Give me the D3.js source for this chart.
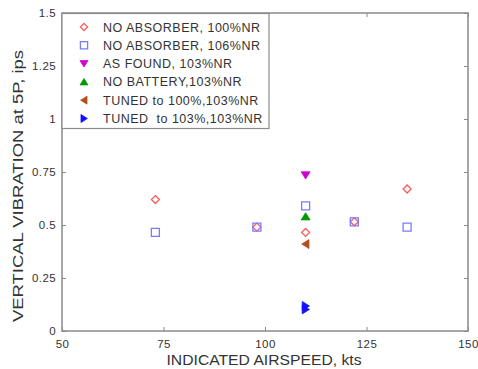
<!DOCTYPE html>
<html>
<head>
<meta charset="utf-8">
<script src="https://cdn.jsdelivr.net/npm/d3@7"></script>
<style>
  html, body { margin: 0; padding: 0; background: #fff; }
  svg { display: block; font-family: "Liberation Sans", Arial, Helvetica, sans-serif; }
</style>
</head>
<body>
<svg id="chart" width="478" height="369"></svg>
<script>
// Test conditions and measured vertical vibration (ips) vs indicated airspeed (kts)
const noAbs100Speed = [73, 98, 110, 122, 135];
const noAbs100Vib   = [0.62, 0.49, 0.465, 0.515, 0.67];
const noAbs106Speed = [73, 98, 110, 122, 135];
const noAbs106Vib   = [0.465, 0.49, 0.59, 0.515, 0.49];
const asFoundSpeed  = [110];
const asFoundVib    = [0.735];
const noBattSpeed   = [110];
const noBattVib     = [0.54];
const tuned100Speed = [110];
const tuned100Vib   = [0.41];
const tuned103Speed = [110, 110];
const tuned103Vib   = [0.102, 0.118];

const xTicks = [50, 75, 100, 125, 150];
const yTicks = [0, 0.25, 0.5, 0.75, 1, 1.25, 1.5];

const series = [
  { name: "NO ABSORBER, 100%NR", x: noAbs100Speed, y: noAbs100Vib, shape: "diamond", color: "#ff5a5a", fill: false },
  { name: "NO ABSORBER, 106%NR", x: noAbs106Speed, y: noAbs106Vib, shape: "square", color: "#7a7aff", fill: false },
  { name: "AS FOUND, 103%NR", x: asFoundSpeed, y: asFoundVib, shape: "triDown", color: "#d000d0", fill: true },
  { name: "NO BATTERY,103%NR", x: noBattSpeed, y: noBattVib, shape: "triUp", color: "#009a00", fill: true },
  { name: "TUNED to 100%,103%NR", x: tuned100Speed, y: tuned100Vib, shape: "triLeft", color: "#b0501e", fill: true },
  { name: "TUNED  to 103%,103%NR", x: tuned103Speed, y: tuned103Vib, shape: "triRight", color: "#1010ff", fill: true }
];

const svg = d3.select("#chart");
const margin = { left: 62, right: 10, top: 13, bottom: 38 };
const W = 478, H = 369;
const x = d3.scaleLinear().domain([50, 150]).range([margin.left, W - margin.right]);
const y = d3.scaleLinear().domain([0, 1.5]).range([H - margin.bottom, margin.top]);

const frameColor = "#8a8a8a";
const textColor = "#333";

// Marker path generator, r = half-size
function markerPath(shape, r) {
  switch (shape) {
    case "diamond": return `M0,${-r}L${r},0L0,${r}L${-r},0Z`;
    case "square": return `M${-r},${-r}H${r}V${r}H${-r}Z`;
    case "triDown": return `M${-r},${-r*0.75}L${r},${-r*0.75}L0,${r*0.85}Z`;
    case "triUp": return `M${-r},${r*0.75}L${r},${r*0.75}L0,${-r*0.85}Z`;
    case "triLeft": return `M${r*0.75},${-r}L${r*0.75},${r}L${-r*0.85},0Z`;
    case "triRight": return `M${-r*0.75},${-r}L${-r*0.75},${r}L${r*0.85},0Z`;
  }
}

// Axes (ticks inward, mirrored on the opposite sides)
const tickLen = 4;
const gx = svg.append("g").attr("transform", `translate(0,${y(0)})`)
  .call(d3.axisBottom(x).tickValues(xTicks).tickSize(-tickLen).tickPadding(9).tickFormat(d3.format("d")));
const gxTop = svg.append("g").attr("transform", `translate(0,${y(1.5)})`)
  .call(d3.axisTop(x).tickValues(xTicks).tickSize(-tickLen).tickFormat(""));
const gy = svg.append("g").attr("transform", `translate(${x(50)},0)`)
  .call(d3.axisLeft(y).tickValues(yTicks).tickSize(-tickLen).tickPadding(6).tickFormat(d => d3.format("")(d)));
const gyRight = svg.append("g").attr("transform", `translate(${x(150)},0)`)
  .call(d3.axisRight(y).tickValues(yTicks).tickSize(-tickLen).tickFormat(""));

[gx, gxTop, gy, gyRight].forEach(g => {
  g.select(".domain").remove();
  g.selectAll(".tick line").attr("stroke", frameColor);
  g.selectAll(".tick text").attr("fill", textColor).attr("font-size", 11.5)
    .attr("letter-spacing", 0.4)
    .attr("font-family", "Liberation Sans, Arial, sans-serif");
});

// Plot frame
svg.append("rect")
  .attr("x", x(50)).attr("y", y(1.5))
  .attr("width", x(150) - x(50)).attr("height", y(0) - y(1.5))
  .attr("fill", "none").attr("stroke", frameColor).attr("stroke-width", 1.5);

// Data markers
series.forEach(s => {
  svg.append("g").selectAll("path")
    .data(s.x.map((v, i) => [v, s.y[i]]))
    .join("path")
    .attr("transform", d => `translate(${x(d[0])},${y(d[1])})`)
    .attr("d", markerPath(s.shape, s.fill ? 4.5 : 4))
    .attr("fill", s.fill ? s.color : "none")
    .attr("stroke", s.color)
    .attr("stroke-width", s.fill ? 0.8 : 1.3);
});

// Legend
const lg = svg.append("g");
lg.append("rect")
  .attr("x", x(50)).attr("y", y(1.5) + 0.5)
  .attr("width", 207).attr("height", 115)
  .attr("fill", "#fff").attr("stroke", frameColor).attr("stroke-width", 1.2);
series.forEach((s, i) => {
  const cy = y(1.5) + 14 + i * 18.3;
  lg.append("path")
    .attr("transform", `translate(${x(50) + 22},${cy})`)
    .attr("d", markerPath(s.shape, s.fill ? 4 : 3.6))
    .attr("fill", s.fill ? s.color : "none")
    .attr("stroke", s.color)
    .attr("stroke-width", s.fill ? 0.8 : 1.3);
  lg.append("text")
    .attr("x", x(50) + 41).attr("y", cy + 4.5)
    .attr("font-size", 12.5).attr("letter-spacing", 0.5).attr("fill", textColor)
    .style("white-space", "pre")
    .text(s.name);
});

// Axis titles
svg.append("text")
  .attr("x", 264).attr("y", 365)
  .attr("text-anchor", "middle").attr("font-size", 15).attr("fill", textColor)
  .attr("textLength", 195).attr("lengthAdjust", "spacingAndGlyphs")
  .text("INDICATED AIRSPEED, kts");
svg.append("text")
  .attr("transform", `translate(23,186) rotate(-90)`)
  .attr("text-anchor", "middle").attr("font-size", 14).attr("fill", textColor)
  .attr("textLength", 272).attr("lengthAdjust", "spacingAndGlyphs")
  .text("VERTICAL VIBRATION at 5P, ips");
</script>
</body>
</html>
